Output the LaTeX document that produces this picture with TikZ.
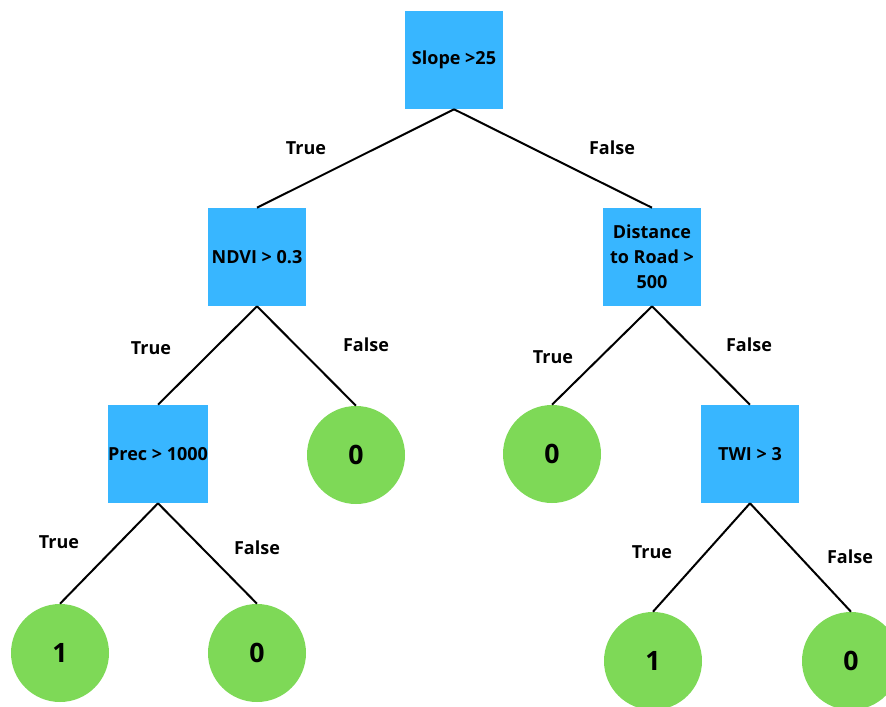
\documentclass[tikz,border=0pt]{standalone}
\usepackage{fontspec}
\setmainfont{Open Sans}
\usepackage{tikz}
\usetikzlibrary{positioning}

\begin{document}
\begin{tikzpicture}[x=0.75pt,y=-0.75pt,font=\bfseries\fontsize{13.5}{18.75}\selectfont]

  \useasboundingbox (0,0) rectangle (886,707);
    \tikzstyle{dnode}=[rectangle,fill={rgb,255:red,56;green,182;blue,255},minimum size=73.5pt,inner sep=0pt,align=center]
    \tikzstyle{lnode}=[circle,fill={rgb,255:red,126;green,217;blue,87},minimum size=73.5pt,inner sep=0pt,font=\bfseries\fontsize{20}{24}\selectfont]
    \tikzstyle{branch}=[draw=black,line width=1.5pt]

  \node[dnode] (slope) at (454,60) {Slope >25};
  \node[dnode] (ndvi) at (257,257) {NDVI > 0.3};
  \node[dnode] (road) at (652,257) {Distance\\to Road >\\500};
  \node[dnode] (prec) at (158,454) {Prec > 1000};
  \node[dnode] (twi) at (750,454) {TWI > 3};

  \node[lnode] (ndvino) at (356,455) {0};
  \node[lnode] (roadyes) at (552,454) {0};
  \node[lnode] (precyes) at (60,653) {1};
  \node[lnode] (precno) at (257,653) {0};
  \node[lnode] (twiyes) at (653,661) {1};
  \node[lnode] (twino) at (851,661) {0};

\path[branch] (slope.south) edge (ndvi.north) edge (road.north);
\path[branch] (ndvi.south) edge (prec.north) edge (ndvino.north);
\path[branch] (road.south) edge (roadyes.north) edge (twi.north);
\path[branch] (prec.south) edge (precyes.north) edge (precno.north);
\path[branch] (twi.south) edge (twiyes.north) edge (twino.north);

  \node (t1) at (306,148) {True};
  \node (f1) at (612,148) {False};
  \node (t2) at (151,348) {True};
  \node (f2) at (366,345) {False};
  \node (t3) at (553,357) {True};
  \node (f3) at (749,345) {False};
  \node (t4) at (59,542) {True};
  \node (f4) at (257,548) {False};
  \node (t5) at (652,552) {True};
  \node (f5) at (850,557) {False};
    \end{tikzpicture}
\end{document}
